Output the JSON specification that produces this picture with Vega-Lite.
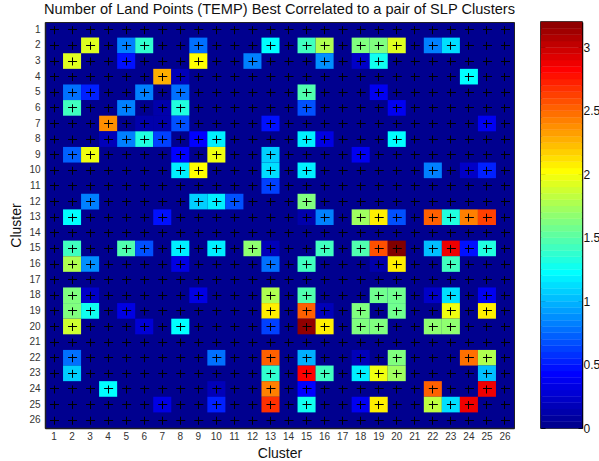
{"$schema":"https://vega.github.io/schema/vega-lite/v6.json","padding":{"left":9,"top":1,"right":0,"bottom":0},"background":"white","spacing":23,"config":{"font":"Liberation Sans","view":{"stroke":null}},"datasets":{"cells":[{"r":2,"c":3,"v":1.9},{"r":2,"c":5,"v":0.8},{"r":2,"c":6,"v":1.35},{"r":2,"c":9,"v":0.75},{"r":2,"c":13,"v":1.2},{"r":2,"c":15,"v":1.4},{"r":2,"c":16,"v":1.75},{"r":2,"c":18,"v":1.6},{"r":2,"c":19,"v":1.6},{"r":2,"c":20,"v":1.9},{"r":2,"c":22,"v":0.8},{"r":2,"c":23,"v":1.1},{"r":3,"c":2,"v":1.9},{"r":3,"c":5,"v":0.45},{"r":3,"c":9,"v":2.0},{"r":3,"c":12,"v":0.8},{"r":3,"c":16,"v":0.85},{"r":3,"c":18,"v":0.2},{"r":3,"c":19,"v":1.25},{"r":4,"c":7,"v":2.25},{"r":4,"c":8,"v":0.15},{"r":4,"c":24,"v":1.2},{"r":5,"c":2,"v":0.75},{"r":5,"c":3,"v":0.5},{"r":5,"c":6,"v":0.8},{"r":5,"c":8,"v":0.75},{"r":5,"c":15,"v":1.45},{"r":5,"c":19,"v":0.35},{"r":6,"c":2,"v":1.4},{"r":6,"c":5,"v":0.8},{"r":6,"c":7,"v":0.1},{"r":6,"c":8,"v":1.3},{"r":6,"c":15,"v":0.65},{"r":6,"c":20,"v":0.35},{"r":7,"c":4,"v":2.35},{"r":7,"c":6,"v":0.1},{"r":7,"c":7,"v":0.1},{"r":7,"c":8,"v":0.65},{"r":7,"c":13,"v":0.45},{"r":7,"c":25,"v":0.35},{"r":8,"c":4,"v":0.15},{"r":8,"c":5,"v":0.8},{"r":8,"c":6,"v":1.3},{"r":8,"c":7,"v":0.6},{"r":8,"c":9,"v":0.4},{"r":8,"c":10,"v":1.15},{"r":8,"c":15,"v":1.15},{"r":8,"c":16,"v":0.3},{"r":8,"c":20,"v":1.2},{"r":9,"c":2,"v":0.7},{"r":9,"c":3,"v":1.95},{"r":9,"c":8,"v":0.4},{"r":9,"c":10,"v":1.95},{"r":9,"c":13,"v":1.05},{"r":9,"c":18,"v":0.35},{"r":10,"c":8,"v":1.15},{"r":10,"c":9,"v":2.0},{"r":10,"c":13,"v":1.1},{"r":10,"c":15,"v":1.15},{"r":10,"c":22,"v":0.8},{"r":10,"c":24,"v":0.2},{"r":10,"c":25,"v":0.5},{"r":11,"c":13,"v":0.6},{"r":12,"c":3,"v":0.8},{"r":12,"c":9,"v":1.05},{"r":12,"c":10,"v":1.15},{"r":12,"c":11,"v":0.65},{"r":12,"c":15,"v":1.6},{"r":13,"c":2,"v":1.2},{"r":13,"c":7,"v":0.45},{"r":13,"c":15,"v":0.1},{"r":13,"c":16,"v":0.8},{"r":13,"c":18,"v":1.7},{"r":13,"c":19,"v":2.05},{"r":13,"c":20,"v":0.65},{"r":13,"c":22,"v":2.5},{"r":13,"c":23,"v":1.3},{"r":13,"c":24,"v":2.4},{"r":13,"c":25,"v":2.6},{"r":15,"c":2,"v":1.4},{"r":15,"c":5,"v":1.45},{"r":15,"c":6,"v":0.65},{"r":15,"c":8,"v":1.15},{"r":15,"c":10,"v":1.15},{"r":15,"c":12,"v":1.65},{"r":15,"c":13,"v":0.15},{"r":15,"c":16,"v":1.4},{"r":15,"c":18,"v":1.45},{"r":15,"c":19,"v":2.55},{"r":15,"c":20,"v":3.2},{"r":15,"c":22,"v":1.0},{"r":15,"c":23,"v":2.85},{"r":15,"c":24,"v":0.45},{"r":15,"c":25,"v":1.3},{"r":16,"c":2,"v":1.75},{"r":16,"c":3,"v":0.85},{"r":16,"c":8,"v":0.3},{"r":16,"c":13,"v":0.75},{"r":16,"c":15,"v":1.4},{"r":16,"c":19,"v":0.1},{"r":16,"c":20,"v":2.05},{"r":16,"c":23,"v":1.4},{"r":18,"c":2,"v":1.6},{"r":18,"c":3,"v":0.2},{"r":18,"c":9,"v":0.3},{"r":18,"c":13,"v":1.75},{"r":18,"c":15,"v":1.45},{"r":18,"c":19,"v":1.55},{"r":18,"c":20,"v":1.55},{"r":18,"c":22,"v":0.2},{"r":18,"c":23,"v":1.1},{"r":18,"c":25,"v":0.35},{"r":19,"c":2,"v":1.6},{"r":19,"c":3,"v":1.25},{"r":19,"c":5,"v":0.3},{"r":19,"c":13,"v":2.05},{"r":19,"c":15,"v":2.5},{"r":19,"c":16,"v":0.15},{"r":19,"c":18,"v":1.6},{"r":19,"c":20,"v":1.55},{"r":19,"c":23,"v":1.95},{"r":19,"c":25,"v":2.05},{"r":20,"c":2,"v":1.85},{"r":20,"c":6,"v":0.25},{"r":20,"c":8,"v":1.2},{"r":20,"c":13,"v":0.6},{"r":20,"c":15,"v":3.15},{"r":20,"c":16,"v":2.05},{"r":20,"c":18,"v":1.6},{"r":20,"c":19,"v":1.6},{"r":20,"c":22,"v":1.65},{"r":20,"c":23,"v":1.65},{"r":22,"c":2,"v":0.75},{"r":22,"c":10,"v":0.75},{"r":22,"c":13,"v":2.5},{"r":22,"c":15,"v":0.95},{"r":22,"c":18,"v":0.15},{"r":22,"c":20,"v":1.6},{"r":22,"c":24,"v":2.45},{"r":22,"c":25,"v":1.75},{"r":23,"c":2,"v":1.05},{"r":23,"c":13,"v":1.35},{"r":23,"c":15,"v":2.8},{"r":23,"c":16,"v":1.4},{"r":23,"c":18,"v":1.15},{"r":23,"c":19,"v":1.95},{"r":23,"c":20,"v":1.7},{"r":23,"c":25,"v":1.0},{"r":24,"c":4,"v":1.2},{"r":24,"c":10,"v":0.15},{"r":24,"c":13,"v":2.4},{"r":24,"c":15,"v":0.4},{"r":24,"c":22,"v":2.5},{"r":24,"c":25,"v":2.85},{"r":25,"c":7,"v":0.3},{"r":25,"c":10,"v":0.5},{"r":25,"c":13,"v":2.65},{"r":25,"c":15,"v":1.25},{"r":25,"c":18,"v":0.35},{"r":25,"c":19,"v":2.05},{"r":25,"c":22,"v":1.8},{"r":25,"c":23,"v":1.1},{"r":25,"c":24,"v":2.85}],"bar":[{"lo":0,"hi":0.05},{"lo":0.05,"hi":0.1},{"lo":0.1,"hi":0.15},{"lo":0.15,"hi":0.2},{"lo":0.2,"hi":0.25},{"lo":0.25,"hi":0.3},{"lo":0.3,"hi":0.35},{"lo":0.35,"hi":0.4},{"lo":0.4,"hi":0.45},{"lo":0.45,"hi":0.5},{"lo":0.5,"hi":0.55},{"lo":0.55,"hi":0.6},{"lo":0.6,"hi":0.65},{"lo":0.65,"hi":0.7},{"lo":0.7,"hi":0.75},{"lo":0.75,"hi":0.8},{"lo":0.8,"hi":0.85},{"lo":0.85,"hi":0.9},{"lo":0.9,"hi":0.95},{"lo":0.95,"hi":1},{"lo":1,"hi":1.05},{"lo":1.05,"hi":1.1},{"lo":1.1,"hi":1.15},{"lo":1.15,"hi":1.2},{"lo":1.2,"hi":1.25},{"lo":1.25,"hi":1.3},{"lo":1.3,"hi":1.35},{"lo":1.35,"hi":1.4},{"lo":1.4,"hi":1.45},{"lo":1.45,"hi":1.5},{"lo":1.5,"hi":1.55},{"lo":1.55,"hi":1.6},{"lo":1.6,"hi":1.65},{"lo":1.65,"hi":1.7},{"lo":1.7,"hi":1.75},{"lo":1.75,"hi":1.8},{"lo":1.8,"hi":1.85},{"lo":1.85,"hi":1.9},{"lo":1.9,"hi":1.95},{"lo":1.95,"hi":2},{"lo":2,"hi":2.05},{"lo":2.05,"hi":2.1},{"lo":2.1,"hi":2.15},{"lo":2.15,"hi":2.2},{"lo":2.2,"hi":2.25},{"lo":2.25,"hi":2.3},{"lo":2.3,"hi":2.35},{"lo":2.35,"hi":2.4},{"lo":2.4,"hi":2.45},{"lo":2.45,"hi":2.5},{"lo":2.5,"hi":2.55},{"lo":2.55,"hi":2.6},{"lo":2.6,"hi":2.65},{"lo":2.65,"hi":2.7},{"lo":2.7,"hi":2.75},{"lo":2.75,"hi":2.8},{"lo":2.8,"hi":2.85},{"lo":2.85,"hi":2.9},{"lo":2.9,"hi":2.95},{"lo":2.95,"hi":3},{"lo":3,"hi":3.05},{"lo":3.05,"hi":3.1},{"lo":3.1,"hi":3.15},{"lo":3.15,"hi":3.2}]},"hconcat":[{"width":469,"height":406,"title":{"text":"Number of Land Points (TEMP) Best Correlated to a pair of SLP Clusters","fontSize":14.6,"fontWeight":"normal","color":"#111","anchor":"middle","offset":5},"view":{"fill":"#00008f","stroke":"#222","strokeWidth":1},"data":{"name":"cells"},"mark":{"type":"rect"},"encoding":{"x":{"field":"c","type":"ordinal","title":"Cluster","scale":{"domain":[1,2,3,4,5,6,7,8,9,10,11,12,13,14,15,16,17,18,19,20,21,22,23,24,25,26],"paddingInner":0,"paddingOuter":0},"axis":{"labelAngle":0,"labelFontSize":10,"labelColor":"#333","titleFontSize":14,"titleFontWeight":"normal","titleColor":"#111","titlePadding":5,"grid":true,"gridColor":"black","gridDash":[8,7.62],"gridDashOffset":11.82,"gridWidth":1,"tickSize":0,"labelPadding":3,"domainColor":"#222","domainWidth":1.5}},"y":{"field":"r","type":"ordinal","title":"Cluster","scale":{"domain":[1,2,3,4,5,6,7,8,9,10,11,12,13,14,15,16,17,18,19,20,21,22,23,24,25,26],"paddingInner":0,"paddingOuter":0},"axis":{"labelFontSize":10,"labelColor":"#333","titleFontSize":14,"titleFontWeight":"normal","titleColor":"#111","titlePadding":5,"grid":true,"gridColor":"black","gridDash":[9,9.04],"gridDashOffset":13.54,"gridWidth":1,"tickSize":0,"labelPadding":5,"domainColor":"#222","domainWidth":1.5}},"color":{"field":"v","type":"quantitative","legend":null,"scale":{"domain":[0,0.4,1.2,2,2.8,3.2],"range":["#00008f","#0000ff","#00ffff","#ffff00","#ff0000","#800000"],"interpolate":"rgb"}}}},{"width":41,"height":406,"view":{"stroke":"black","strokeWidth":1.5},"data":{"name":"bar"},"layer":[{"mark":{"type":"rect","strokeWidth":0.4},"encoding":{"x":{"datum":0,"type":"quantitative","scale":{"domain":[0,1]},"axis":null},"x2":{"datum":1},"y":{"field":"lo","type":"quantitative","scale":{"domain":[0,3.2],"nice":false},"title":null,"axis":{"orient":"right","values":[0,0.5,1,1.5,2,2.5,3],"format":"~g","tickSize":-4,"tickColor":"black","labelFontSize":12,"labelColor":"#111","labelPadding":5,"domainColor":"black","domainWidth":1.5,"grid":false}},"y2":{"field":"hi"},"color":{"field":"lo","type":"quantitative","legend":null},"stroke":{"field":"lo","type":"quantitative","legend":null,"scale":{"domain":[0,0.4,1.2,2,2.8,3.2],"range":["#00008f","#0000ff","#00ffff","#ffff00","#ff0000","#800000"],"interpolate":"rgb"}}}},{"mark":{"type":"rect","opacity":0},"encoding":{"x":{"datum":0,"type":"quantitative","scale":{"domain":[0,1]},"axis":null},"x2":{"datum":1},"y":{"field":"lo","type":"quantitative","scale":{"domain":[0,3.2],"nice":false},"title":null,"axis":{"orient":"left","values":[0,0.5,1,1.5,2,2.5,3],"tickSize":-4,"tickColor":"black","labels":false,"domainColor":"black","domainWidth":1.5,"grid":false}},"y2":{"field":"hi"}}}],"resolve":{"axis":{"y":"independent"}}}]}
